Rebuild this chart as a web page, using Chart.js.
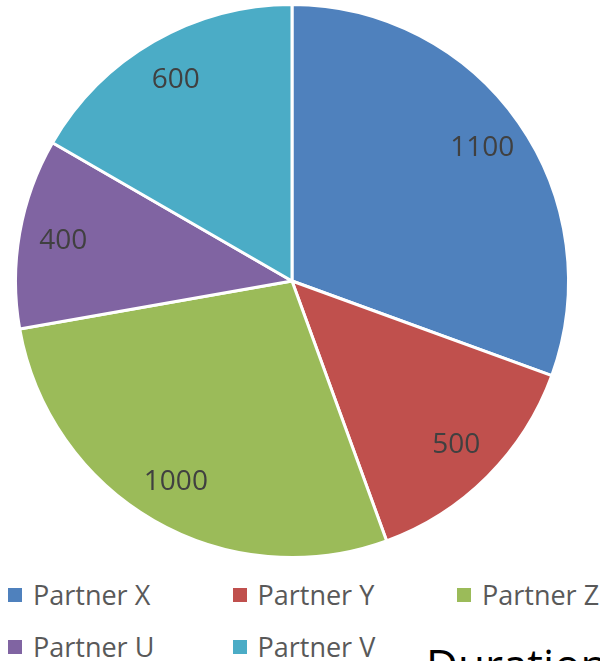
<!DOCTYPE html>
<html>
<head>
<meta charset="utf-8">
<script src="https://cdn.jsdelivr.net/npm/chart.js@4"></script>
<style>
  html, body { margin: 0; padding: 0; background: #fff; overflow: hidden; }
  body { width: 600px; height: 661px; position: relative; font-family: "Open Sans", sans-serif; }
  #wrap { position: absolute; left: 0; top: 0; width: 600px; height: 570px; }
  #legend { position: absolute; left: 8px; top: 576px; width: 600px; }
  .item { position: absolute; display: flex; align-items: center; color: #595959; font-size: 27px; white-space: nowrap; }
  .item span.box { width: 14px; height: 14px; margin-right: 11px; display: inline-block; }
  #title { position: absolute; left: 426px; top: 634px; font-size: 44px; color: #000; white-space: nowrap; }
</style>
</head>
<body>
<div id="wrap"><canvas id="pieChart"></canvas></div>
<div id="legend"></div>
<div id="title">Duration</div>
<script>
// データ
const partners = ['Partner X', 'Partner Y', 'Partner Z', 'Partner U', 'Partner V'];
const durations = [1100, 500, 1000, 400, 600];
const colors = ['#4F81BD', '#C0504D', '#9BBB59', '#8064A2', '#4BACC6'];

// 値ラベルをスライスの中に描く
const valueLabels = {
    id: 'valueLabels',
    afterDatasetsDraw(chart) {
        const ctx = chart.ctx;
        const meta = chart.getDatasetMeta(0);
        ctx.save();
        ctx.font = '28px "Open Sans", sans-serif';
        ctx.fillStyle = '#404040';
        ctx.textAlign = 'center';
        ctx.textBaseline = 'middle';
        meta.data.forEach((arc, i) => {
            const p = arc.getProps(['x', 'y', 'startAngle', 'endAngle', 'outerRadius'], true);
            const mid = (p.startAngle + p.endAngle) / 2;
            const r = p.outerRadius * 0.84;
            ctx.fillText(String(durations[i]), p.x + Math.cos(mid) * r, p.y + Math.sin(mid) * r);
        });
        ctx.restore();
    }
};

const ctx = document.getElementById('pieChart').getContext('2d');
const myChart = new Chart(ctx, {
    type: 'pie',
    data: {
        labels: partners,
        datasets: [{
            data: durations,
            backgroundColor: colors,
            borderColor: '#ffffff',
            borderWidth: 3
        }]
    },
    options: {
        responsive: true,
        maintainAspectRatio: false,
        animation: false,
        layout: { padding: { left: 1, right: 17, top: 3, bottom: 11 } },
        plugins: {
            legend: { display: false },
            tooltip: { enabled: false }
        }
    },
    plugins: [valueLabels]
});

// 凡例 (3列)
const legend = document.getElementById('legend');
partners.forEach((name, i) => {
    const item = document.createElement('div');
    item.className = 'item';
    item.style.left = ((i % 3) * 224.5) + 'px';
    item.style.top = (Math.floor(i / 3) * 52) + 'px';
    item.innerHTML = '<span class="box" style="background:' + colors[i] + '"></span>' + name;
    legend.appendChild(item);
});
</script>
</body>
</html>
